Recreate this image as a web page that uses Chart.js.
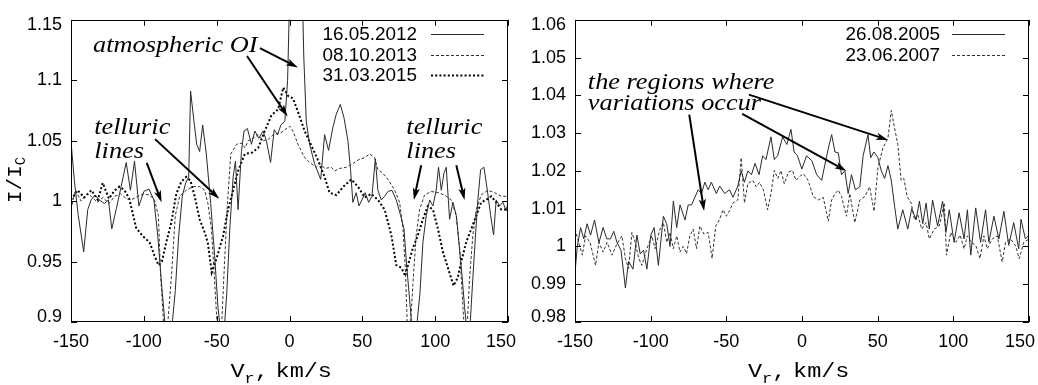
<!DOCTYPE html>
<html><head><meta charset="utf-8">
<script src="https://cdn.jsdelivr.net/npm/chart.js@4.4.1/dist/chart.umd.min.js"></script>
<style>
html,body{margin:0;padding:0;background:#fff;}
#wrap{position:relative;width:1038px;height:385px;overflow:hidden;background:#fff;}
canvas{position:absolute;top:0;}
</style></head><body>
<div id="wrap">
<canvas id="c1" width="519" height="385" style="left:0px"></canvas>
<canvas id="c2" width="519" height="385" style="left:519px"></canvas>
</div>
<script>
// ---------- data: left panel ----------
const xTicks = [-150, -100, -50, 0, 50, 100, 150];
const v2012 = [-150,-147.7,-145,-141.3,-138.5,-136.2,-133.5,-130.5,-127.1,-124.3,
-122,-119,-115.6,-112.1,-109.2,-106.4,-103.4,-100,-96.5,-93.1,
-90.4,-87.6,-85.3,-83,-80.7,-78.4,-76.1,-73.6,-71.3,-69.2,
-67.9,-65.6,-63.7,-61.7,-59.6,-57.1,-54.1,-51.4,-49.1,-47.2,
-45,-43.1,-41,-38.7,-37.1,-35.3,-33,-31.2,-28.9,-26.1,
-23.8,-21.1,-18.1,-15.8,-13,-10.5,-8.2,-5.9,-3.2,-1.3,
0.5,3,6,8.5,9.8,11.5,13.8,17.2,21.4,24.1,
26.8,29.8,32.1,34.9,37.4,40.1,41.9,43.5,45.8,47.7,
49.7,52,54.3,56.6,58.9,60.7,63,65.3,67.6,70.3,
73.3,76.3,78.6,80.4,82.5,84,85.9,87.7,89.5,91.6,
93.9,96.2,98.5,100.7,102.3,104.2,106,107.6,109.9,112.2,
114.5,116.3,118.4,120.2,122,123.9,125.9,127.7,129.3,131.2,
133.5,135.8,138.1,140.1,141.9,144.2,146.5,148.8,150];
const i2012 = [1.0495,1.017,0.988,0.958,0.993,1.001,1.005,1.001,0.998,1.001,
0.977,0.993,1.012,1.032,1.009,1.033,0.996,1.008,1.01,1.001,
0.971,0.928,0.896,0.885,0.896,0.926,0.971,1.004,1.015,1.02,
1.091,1.066,1.047,1.041,1.063,1.039,0.998,0.955,0.912,0.891,
0.891,0.923,0.977,1.02,1.033,0.993,1.041,1.058,1.06,1.047,
1.058,1.052,1.058,1.0495,1.032,1.059,1.055,1.063,1.066,1.1,
1.19,1.26,1.24,1.19,1.12,1.066,1.047,1.031,1.018,1.055,
1.042,1.061,1.072,1.08,1.069,1.05,1.026,0.999,1.007,0.996,
1.001,1.007,0.999,1.004,1.035,1.009,1.001,1.004,1.008,1.009,
1.001,0.988,0.977,0.947,0.918,0.896,0.891,0.901,0.923,0.966,
0.988,1.001,0.996,1.009,1.028,1.009,1.023,1.028,0.985,0.999,
0.988,0.966,0.939,0.912,0.891,0.896,0.937,0.972,1.001,1.026,
1.028,1.009,0.988,0.972,1.001,0.996,0.999,0.992,0.999];

const v2013 = [-150,-147,-143,-139,-136,-132,-128,-124,-120,-116,
-112,-108.7,-104,-100,-96,-92.7,-90,-88.5,-86.5,-85,
-83.5,-81,-78.4,-75.4,-70.9,-66.3,-61.7,-58.2,-56,-53.6,
-51.4,-49.8,-48,-46.5,-45,-42.6,-40.3,-36.4,-33,-30.5,
-28.4,-25,-21.5,-18,-14.7,-11.2,-6.6,-3.2,0.3,2.4,
5.8,10.4,13.8,18.4,21,24.1,28.7,31,34.4,39,
43.5,47,51.6,55,58.4,60.7,64.1,67.6,72.2,75.6,
77.9,79.5,80.8,82.5,84.7,87,89.3,92.7,97.3,101.9,
106.5,111,114.5,116.8,118.4,119.7,121.5,123.6,125.9,128.2,
131.6,136.2,140.8,145.4,150];
const i2013 = [0.993,1.009,1.0,1.006,1.004,0.999,1.003,0.998,1.004,1.006,
1.002,1.001,1.004,1.006,1.005,1.001,0.988,0.939,0.90,0.88,
0.90,0.939,0.988,1.004,1.009,1.012,1.012,1.009,0.998,0.977,
0.934,0.90,0.885,0.90,0.939,0.998,1.039,1.047,1.048,1.044,
1.05,1.052,1.055,1.05,1.051,1.055,1.056,1.059,1.062,1.058,
1.047,1.036,1.032,1.028,1.031,1.027,1.028,1.025,1.027,1.028,
1.031,1.034,1.036,1.039,1.036,1.026,1.023,1.018,1.009,0.999,
0.977,0.945,0.90,0.885,0.931,0.972,0.993,1.005,1.008,1.007,
1.005,1.001,0.988,0.961,0.926,0.90,0.885,0.936,0.972,0.993,
1.005,1.009,1.007,1.004,1.004];

const v2015 = [-150,-145.4,-141,-136,-131.6,-128.2,-124,-120,-116.7,-113.3,
-110,-105.3,-100.7,-96.1,-92.7,-89.9,-87.6,-84.6,-81.2,-77.7,
-74.3,-70.9,-68,-65.1,-61.7,-58.2,-56,-53.4,-50,-45.6,
-42.2,-38.7,-35.3,-30.7,-26,-21.5,-17,-12.4,-7.8,-4.3,
-0.9,2.4,5.8,10.4,15,19.5,24.1,27.5,32.1,37,
42.4,47,51.6,56.1,60.7,65.3,69.9,73.3,76.7,79.5,
81.3,84.7,88.2,91.6,95,98.5,101.9,105.3,108.7,112.6,
115.6,117.9,121.3,124.8,128.2,131.6,135,138.5,141.9,145.4,
150];
const i2015 = [1.001,1.009,1.003,1.009,1.001,1.015,1.002,1.009,1.012,1.009,
1.002,0.978,0.971,0.966,0.955,0.947,0.95,0.966,0.982,1.006,
1.016,1.02,1.017,1.004,0.985,0.974,0.965,0.941,0.953,0.971,
0.993,1.009,1.025,1.039,1.04,1.044,1.058,1.071,1.076,1.094,
1.087,1.085,1.074,1.058,1.046,1.034,1.02,1.007,1.005,1.012,
1.018,1.012,1.003,1.006,1.001,0.993,0.972,0.947,0.945,0.938,
0.947,0.961,0.972,0.985,0.996,0.993,0.977,0.958,0.945,0.930,
0.937,0.950,0.966,0.977,0.988,0.999,1.001,1.004,0.999,0.993,
0.993];

// ---------- data: right panel ----------
const v2005 = [-150,-148.5,-146.3,-144.2,-142,-139.7,-137.1,-134.2,-131.4,-129,
-126.6,-124.4,-122.2,-119.6,-116.7,-114.6,-111.7,-109.1,-106.9,-104.7,
-102.5,-99.9,-97.7,-94.9,-91.6,-89.4,-87.2,-85,-82.8,-80.6,
-77.3,-75.2,-73,-70.8,-68.6,-66.4,-64.2,-62,-59.9,-56.6,
-54.4,-51.1,-47.9,-45.6,-42.4,-40.2,-38,-35.8,-33.4,-31,
-28.4,-26,-23.8,-20.5,-18.3,-16.1,-12.8,-10,-7.3,-5.2,
-3,-0.1,3,6.5,9.7,13,15.2,17.4,19.6,21.8,
24,26.1,28.3,30.5,32.7,35.3,38.2,40.4,43.6,45.4,
47.5,50.2,52.4,54.6,56.8,59,61.2,63.3,66.6,69.9,
72.5,75.4,77.6,79.8,82,84.1,86.3,89.6,92.9,95.1,
97.3,100.5,103.8,107.1,109.3,111.5,114.8,118,121.3,123.5,
126.8,130.1,133.4,136.6,139.9,143.2,144.7,147.6,150];
const i2005 = [0.993,1.0,1.005,1.002,1.006,1.003,1.007,1.001,1.005,1.002,
1.002,1.004,1.001,0.999,0.989,0.996,0.994,1.003,0.998,0.999,
0.994,1.003,1.005,0.995,1.008,1.006,1.0,1.012,1.005,1.011,
1.007,1.011,1.011,1.013,1.015,1.014,1.017,1.015,1.017,1.014,
1.016,1.014,1.015,1.013,1.016,1.020,1.017,1.020,1.019,1.022,
1.019,1.024,1.023,1.029,1.023,1.024,1.029,1.027,1.031,1.025,
1.024,1.0205,1.024,1.0227,1.019,1.0175,1.0218,1.026,1.0296,1.025,
1.0248,1.019,1.02,1.014,1.019,1.015,1.0158,1.024,1.0296,1.0235,
1.025,1.0235,1.02,1.018,1.0214,1.0175,1.0106,1.0046,1.0097,1.0046,
1.010,1.007,1.012,1.006,1.0115,1.0046,1.0123,1.0054,1.012,1.0037,
1.0097,1.0011,1.0089,1.002,1.0097,0.9977,1.0102,1.0011,1.0097,1.0011,
1.008,1.002,1.0093,1.0003,1.0063,0.9994,1.0072,1.002,1.003];

const v2007 = [-150,-147.5,-145.2,-143,-140,-136.4,-134.2,-131.4,-128.8,-125.5,
-122.5,-119,-116.7,-114.6,-112.4,-110.2,-108,-105.8,-102.5,-99.2,
-97.1,-93.8,-91.6,-89.4,-87.2,-85,-82.8,-80.6,-78.5,-76.3,
-74.1,-71.9,-69.7,-67.5,-64.9,-62,-59.4,-57,-54.4,-52.2,
-50,-47.8,-45.6,-42.4,-40.2,-38,-35.8,-32.5,-30.3,-28,
-25.5,-22.7,-20.5,-18.3,-16,-13.9,-11.7,-8.9,-6.3,-4,
-0.8,1,4,7.5,10.8,14,17.4,19.6,21.8,24,
26.1,29.4,31.6,34.9,38.2,41.5,44.7,47.6,50.2,53.5,
56.8,59,61.2,63.3,65.5,67.3,69.5,72.1,74.3,76.5,
79.1,82,84.1,87.4,90.7,94,95.5,98.3,101.6,104.5,
107.1,109.3,112,114.8,117.6,120.2,122.4,125.7,129,132.3,
134.5,137.7,141,143.6,146.5,150];
const i2007 = [1.0046,1.001,0.9977,1.0028,1.001,0.995,1.0011,0.9985,1.0011,0.9977,
1.0005,1.0028,0.9968,0.9942,1.0037,1.0011,0.997,0.995,0.9994,1.0028,
0.9994,1.0046,1.0063,1.0011,1.0037,0.9994,1.0028,0.9985,1.0,0.9981,
1.0028,1.0046,0.9994,1.0054,1.0033,1.0037,0.9968,1.0054,1.0072,1.0097,
1.008,1.0095,1.0115,1.0123,1.0235,1.0115,1.0166,1.0175,1.0158,1.017,
1.0149,1.0097,1.014,1.0201,1.018,1.0201,1.0166,1.0197,1.0201,1.0175,
1.0188,1.0192,1.0175,1.0132,1.0123,1.013,1.0067,1.0123,1.014,1.0149,
1.0132,1.008,1.014,1.0063,1.0123,1.0132,1.0158,1.0093,1.0209,1.0261,
1.0287,1.036,1.0313,1.027,1.0175,1.018,1.0132,1.0115,1.0072,1.0085,
1.0046,1.0063,1.002,1.0046,1.0054,1.0115,0.9977,1.0037,1.0011,1.003,
0.9994,1.0028,1.001,1.0003,0.9968,1.0028,0.9994,1.002,1.0028,0.9959,
1.0011,1.002,1.0003,0.9968,1.0011,1.002];

const leftLabels = ['16.05.2012', '08.10.2013', '31.03.2015'];
const rightLabels = ['26.08.2005', '23.06.2007'];

// ---------- annotations (data coordinates) ----------
const extras = {
  c1: {
    notes: [
      {t: 'atmospheric OI', x: -134.9, y: 1.1235},
      {t: 'telluric', x: -134.0, y: 1.0553}, {t: 'lines', x: -134.0, y: 1.036},
      {t: 'telluric', x: 80.2, y: 1.0553}, {t: 'lines', x: 80.2, y: 1.036}
    ],
    arrows: [
      [-20.3, 1.1265, 5.8, 1.1106],
      [-29.2, 1.120, -1.3, 1.070],
      [-98.0, 1.0316, -87.8, 0.999],
      [-92.3, 1.0513, -48.2, 1.002],
      [90.4, 1.0297, 85.4, 1.001],
      [114.5, 1.0297, 120.2, 1.001]
    ],
    yTitle: true, xTitleOff: -59, legTextR: 91
  },
  c2: {
    notes: [
      {t: 'the regions where', x: -141.5, y: 1.0418},
      {t: 'variations occur', x: -141.5, y: 1.0362}
    ],
    arrows: [
      [-74.5, 1.0349, -64.7, 1.0094],
      [-35.1, 1.0402, 56.8, 1.0282],
      [-39.5, 1.0351, 29.4, 1.020]
    ],
    yTitle: false, xTitleOff: -54, legTextR: 89
  }
};

const FMT = v => String(parseFloat(Number(v).toFixed(4)));
const TICK_SIZE = 18, PAD_X = 9, PAD_Y = 9;

function pts(xs, ys) { return xs.map((x, k) => ({x: x, y: ys[k]})); }

function arrow(ctx, x1, y1, x2, y2) {
  const ang = Math.atan2(y2 - y1, x2 - x1), L = 12, W = 3.6;
  const c = Math.cos(ang), s = Math.sin(ang);
  const bx = x2 - L * c, by = y2 - L * s;
  ctx.lineWidth = 2;
  ctx.beginPath(); ctx.moveTo(x1, y1); ctx.lineTo(bx + 3 * c, by + 3 * s); ctx.stroke();
  ctx.beginPath(); ctx.moveTo(x2, y2);
  ctx.lineTo(bx - W * s, by + W * c);
  ctx.lineTo(bx + 3 * c, by + 3 * s);
  ctx.lineTo(bx + W * s, by - W * c);
  ctx.closePath(); ctx.fill();
}

const decor = {
  id: 'decor',
  afterDraw(chart) {
    const e = extras[chart.canvas.id];
    const ctx = chart.ctx, a = chart.chartArea, xs = chart.scales.x, ys = chart.scales.y;
    ctx.save();
    ctx.fillStyle = '#000'; ctx.strokeStyle = '#000'; ctx.setLineDash([]);
    // inward tick marks on all four sides
    ctx.lineWidth = 1;
    ctx.beginPath();
    xs.ticks.forEach(t => {
      const p = Math.round(xs.getPixelForValue(t.value)) + 0.5;
      ctx.moveTo(p, a.bottom); ctx.lineTo(p, a.bottom - 6);
      ctx.moveTo(p, a.top); ctx.lineTo(p, a.top + 6);
    });
    ys.ticks.forEach(t => {
      const p = Math.round(ys.getPixelForValue(t.value)) + 0.5;
      ctx.moveTo(a.left, p); ctx.lineTo(a.left + 6, p);
      ctx.moveTo(a.right, p); ctx.lineTo(a.right - 6, p);
    });
    ctx.stroke();
    ctx.strokeRect(Math.round(a.left) + 0.5, Math.round(a.top) + 0.5,
                   Math.round(a.right - a.left) - 1, Math.round(a.bottom - a.top) - 1);

    // end tick labels kept inside the frame (as in the original)
    ctx.font = TICK_SIZE + 'px "Liberation Sans"';
    ctx.textBaseline = 'middle';
    const xl = xs.ticks[xs.ticks.length - 1];
    const tx = FMT(xl.value), tw = ctx.measureText(tx).width;
    ctx.textAlign = 'center';
    ctx.fillText(tx, Math.min(xs.getPixelForValue(xl.value), chart.width - 3 - tw / 2),
                 a.bottom + PAD_X + TICK_SIZE * 1.2 / 2);
    ctx.textAlign = 'right';
    const y0 = ys.ticks[0], y1 = ys.ticks[ys.ticks.length - 1];
    ctx.fillText(FMT(y0.value), a.left - PAD_Y, ys.getPixelForValue(y0.value) - 5);
    ctx.fillText(FMT(y1.value), a.left - PAD_Y, ys.getPixelForValue(y1.value) + 5);

    // legend (text right, line sample at right)
    chart.data.datasets.forEach((d, i) => {
      const y = a.top + 14.5 + i * 20.5;
      ctx.save();
      ctx.translate(a.right - e.legTextR, y); ctx.scale(1.08, 1);
      ctx.font = '17.5px "Liberation Sans"'; ctx.textAlign = 'right'; ctx.textBaseline = 'middle';
      ctx.fillStyle = '#000';
      ctx.fillText(d.label, 0, 1);
      ctx.restore();
      ctx.save();
      ctx.strokeStyle = d.borderColor; ctx.lineWidth = d.borderWidth; ctx.setLineDash(d.borderDash || []);
      ctx.beginPath(); ctx.moveTo(a.right - 77, Math.round(y) + 0.5); ctx.lineTo(a.right - 24, Math.round(y) + 0.5); ctx.stroke();
      ctx.restore();
    });

    // annotations
    e.notes.forEach(n => {
      ctx.save();
      ctx.translate(xs.getPixelForValue(n.x), ys.getPixelForValue(n.y));
      ctx.scale(1.12, 1);
      ctx.font = 'italic 23.5px "Liberation Serif"';
      ctx.textAlign = 'left'; ctx.textBaseline = 'alphabetic';
      ctx.fillText(n.t, 0, 0);
      ctx.restore();
    });
    e.arrows.forEach(r => {
      arrow(ctx, xs.getPixelForValue(r[0]), ys.getPixelForValue(r[1]),
                 xs.getPixelForValue(r[2]), ys.getPixelForValue(r[3]));
    });

    // x title: V_r, km/s
    ctx.save();
    ctx.translate((a.left + a.right) / 2 + e.xTitleOff, 377);
    ctx.scale(1.12, 1);
    ctx.textAlign = 'left'; ctx.textBaseline = 'alphabetic';
    ctx.font = '21px "Liberation Mono"';
    ctx.fillText('V', 0, 0);
    let px = ctx.measureText('V').width;
    ctx.font = '15px "Liberation Mono"';
    ctx.fillText('r', px, 6);
    px += ctx.measureText('r').width;
    ctx.font = '21px "Liberation Mono"';
    ctx.fillText(',', px, 0);
    ctx.fillText('km/s', px + 18.6, 0);
    ctx.restore();

    // y title: I/I_C
    if (e.yTitle) {
      ctx.save();
      ctx.translate(21, 203);
      ctx.rotate(-Math.PI / 2);
      ctx.textAlign = 'left'; ctx.textBaseline = 'alphabetic';
      ctx.font = '21px "Liberation Mono"';
      ctx.fillText('I/I', 0, 0);
      const w = ctx.measureText('I/I').width;
      ctx.font = '14px "Liberation Mono"';
      ctx.fillText('C', w, 4);
      ctx.restore();
    }
    ctx.restore();
  }
};

function makeChart(id, datasets, yMin, yMax, yStep, yWidth, padRight) {
  return new Chart(document.getElementById(id), {
    type: 'line',
    data: {datasets: datasets},
    options: {
      responsive: false, animation: false, devicePixelRatio: 1,
      layout: {padding: {top: 13, right: padRight, bottom: 0, left: 0}},
      plugins: {legend: {display: false}, tooltip: {enabled: false}},
      elements: {point: {radius: 0}, line: {tension: 0}},
      scales: {
        x: {
          type: 'linear', min: xTicks[0], max: xTicks[xTicks.length - 1],
          afterBuildTicks: s => { s.ticks = xTicks.map(v => ({value: v})); },
          ticks: {
            color: '#000', font: {family: 'Liberation Sans', size: TICK_SIZE}, padding: PAD_X,
            maxRotation: 0, autoSkip: false,
            callback: (v, i, t) => i === t.length - 1 ? '' : FMT(v)
          },
          grid: {display: false, drawTicks: false}, border: {display: false},
          afterFit: s => { s.height = 63; }
        },
        y: {
          type: 'linear', min: yMin, max: yMax,
          ticks: {
            stepSize: yStep, color: '#000', font: {family: 'Liberation Sans', size: TICK_SIZE}, padding: PAD_Y,
            autoSkip: false,
            callback: (v, i, t) => (i === 0 || i === t.length - 1) ? '' : FMT(v)
          },
          grid: {display: false, drawTicks: false}, border: {display: false},
          afterFit: s => { s.width = yWidth; }
        }
      }
    },
    plugins: [decor]
  });
}

const solid = {borderColor: '#2a2a2a', borderWidth: 1, borderDash: []};
const dashed = {borderColor: '#333333', borderWidth: 1, borderDash: [3, 2]};
const dotted = {borderColor: '#000000', borderWidth: 2, borderDash: [2, 2.2]};

makeChart('c1', [
  Object.assign({label: leftLabels[0], data: pts(v2012, i2012), clip: 0}, solid),
  Object.assign({label: leftLabels[1], data: pts(v2013, i2013), clip: 0}, dashed),
  Object.assign({label: leftLabels[2], data: pts(v2015, i2015), clip: 0}, dotted)
], 0.9, 1.15, 0.05, 71, 11);

makeChart('c2', [
  Object.assign({label: rightLabels[0], data: pts(v2005, i2005), clip: 0}, solid),
  Object.assign({label: rightLabels[1], data: pts(v2007, i2007), clip: 0}, dashed)
], 0.98, 1.06, 0.01, 56, 6);
</script>
</body></html>
